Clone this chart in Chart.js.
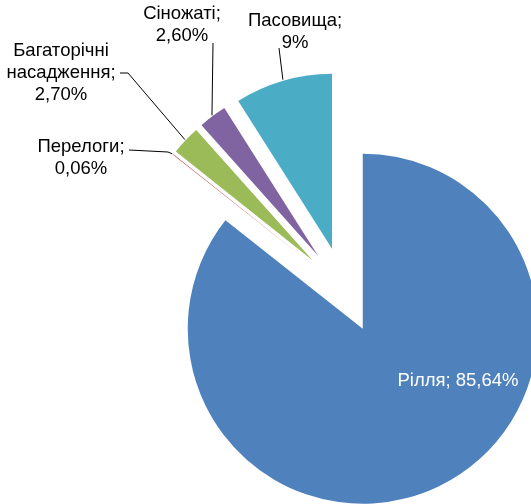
<!DOCTYPE html>
<html><head><meta charset="utf-8">
<script src="https://cdn.jsdelivr.net/npm/chart.js@4/dist/chart.umd.min.js"></script>
<style>html,body{margin:0;padding:0;background:#fff;overflow:hidden}#wrap{position:relative;width:531px;height:504px}</style>
</head><body><div id="wrap"><canvas id="c"></canvas></div>
<script>
// ---- data ----
const categories = ['Рілля', 'Перелоги', 'Багаторічні насадження', 'Сіножаті', 'Пасовища'];
const values = [85.64, 0.06, 2.70, 2.60, 9];
const valueLabels = ['85,64%', '0,06%', '2,70%', '2,60%', '9%'];
const colors = ['#4F81BD', '#C0504D', '#9BBB59', '#8064A2', '#4BACC6'];

// ---- layout / style ----
const EXPLODE = 43;
const FONT = '18.5px "Liberation Sans", Arial, sans-serif';
const LINE_H = 22;
const labelLayout = [
  {x: 458, y: 386, color: '#ffffff', oneLine: true},
  {x: 81, y: 152, lead: [[129, 150], [168, 152]]},
  {x: 61, y: 56, lead: [[120, 73], [128, 73]]},
  {x: 182, y: 19, lead: [[213, 43]]},
  {x: 295, y: 26, lead: [[279, 48]]}
];

function midAngle(el) { return (el.startAngle + el.endAngle) / 2; }

const explodePlugin = {
  id: 'explode',
  afterUpdate(chart) {
    const a = chart.chartArea;
    const cx = (a.left + a.right) / 2, cy = (a.top + a.bottom) / 2;
    chart.getDatasetMeta(0).data.forEach(el => {
      const m = midAngle(el);
      el.x = cx + Math.cos(m) * EXPLODE;
      el.y = cy + Math.sin(m) * EXPLODE;
    });
  }
};

const labelPlugin = {
  id: 'sliceLabels',
  afterDatasetsDraw(chart) {
    const ctx = chart.ctx;
    const els = chart.getDatasetMeta(0).data;
    ctx.save();
    ctx.font = FONT;
    ctx.textAlign = 'center';
    ctx.textBaseline = 'alphabetic';
    els.forEach((el, i) => {
      const L = labelLayout[i];
      let lines;
      if (L.oneLine) lines = [categories[i] + '; ' + valueLabels[i]];
      else {
        const words = categories[i].split(' ');
        words[words.length - 1] += ';';
        lines = words.concat([valueLabels[i]]);
      }
      ctx.fillStyle = L.color || '#000000';
      lines.forEach((t, k) => ctx.fillText(t, L.x, L.y + k * LINE_H));
      if (L.lead) {
        const m = midAngle(el);
        const r = el.outerRadius + 1;
        ctx.strokeStyle = '#000000';
        ctx.lineWidth = 1;
        ctx.beginPath();
        ctx.moveTo(L.lead[0][0], L.lead[0][1]);
        for (let k = 1; k < L.lead.length; k++) ctx.lineTo(L.lead[k][0], L.lead[k][1]);
        ctx.lineTo(el.x + Math.cos(m) * r, el.y + Math.sin(m) * r);
        ctx.stroke();
      }
    });
    ctx.restore();
  }
};

new Chart(document.getElementById('c'), {
  type: 'pie',
  data: {
    labels: categories,
    datasets: [{
      data: values,
      backgroundColor: colors,
      borderWidth: 0,
      clip: false
    }]
  },
  options: {
    responsive: true,
    maintainAspectRatio: false,
    animation: false,
    radius: 175,
    layout: {padding: {left: 157, right: 0, top: 76, bottom: 0}},
    plugins: {legend: {display: false}, tooltip: {enabled: false}}
  },
  plugins: [explodePlugin, labelPlugin]
});
</script>
</body></html>
